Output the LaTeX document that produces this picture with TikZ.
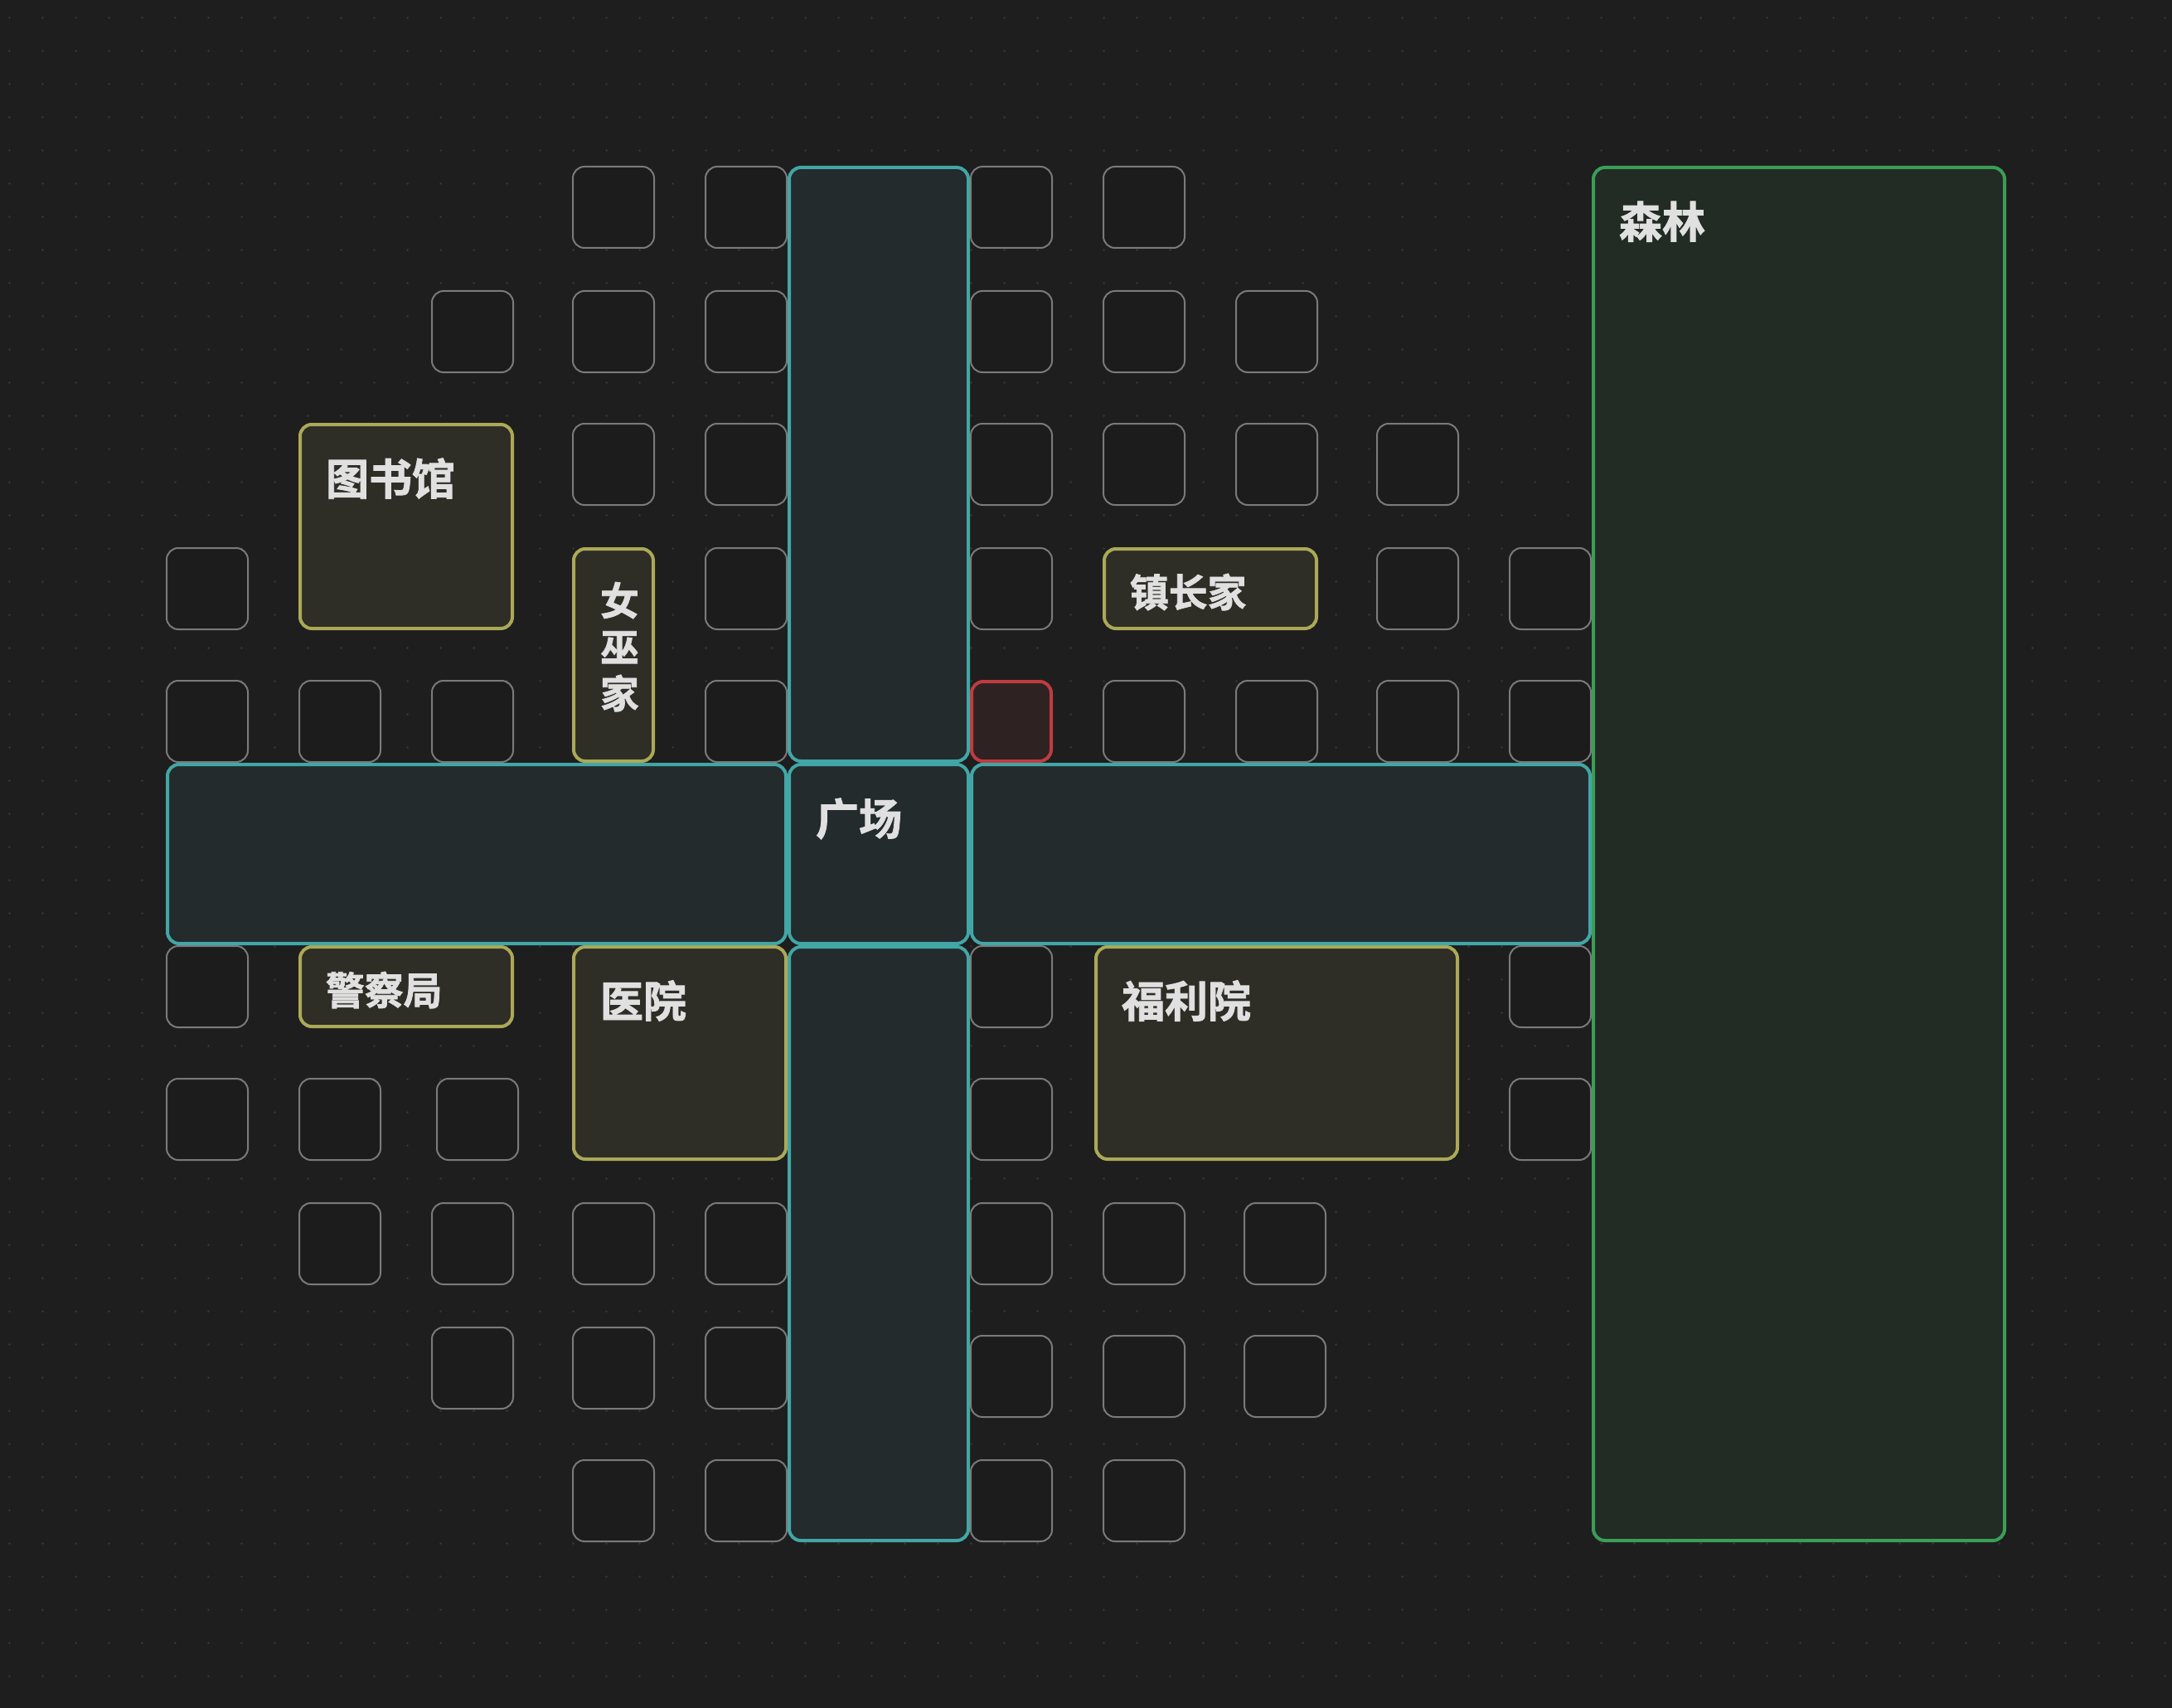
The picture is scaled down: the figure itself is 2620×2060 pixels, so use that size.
\documentclass[tikz,border=0pt]{standalone}
\usepackage{fontspec}
\setmainfont{Noto Sans CJK SC}[BoldFont={Noto Sans CJK SC Bold},BoldFeatures={FakeBold=1.6}]
\definecolor{bgc}{HTML}{1E1E1E}
\definecolor{dotc}{HTML}{353535}
\definecolor{lotc}{HTML}{7A7A7A}
\definecolor{lotf}{HTML}{1C1C1C}
\definecolor{bldc}{HTML}{ABA957}
\definecolor{bldf}{HTML}{2E2D26}
\definecolor{roadc}{HTML}{42A6A6}
\definecolor{roadf}{HTML}{232B2D}
\definecolor{forc}{HTML}{3A9E58}
\definecolor{forf}{HTML}{222B24}
\definecolor{redc}{HTML}{BE3C40}
\definecolor{redf}{HTML}{2E2222}
\definecolor{txtc}{HTML}{E0E0E0}
\tikzset{
  plotbase/.style={inner sep=0pt,outer sep=0pt,rounded corners=7pt},
  lot/.style={plotbase,draw=lotc,fill=lotf,line width=1pt},
  bld/.style={plotbase,draw=bldc,fill=bldf,line width=2pt},
  road/.style={plotbase,draw=roadc,fill=roadf,line width=2pt},
  forest/.style={plotbase,draw=forc,fill=forf,line width=2pt},
  redlot/.style={plotbase,draw=redc,fill=redf,line width=2pt},
  lbl/.style={inner sep=0pt,outer sep=0pt,text=txtc,font=\bfseries,anchor=base west},
  big/.style={lbl,font=\fontsize{26pt}{30pt}\selectfont\bfseries},
  small/.style={lbl,font=\fontsize{23.4pt}{28pt}\selectfont\bfseries},
}
% name, style, x, y, w, h, stroke width in px
\newcommand{\plot}[7]{\node[#2,minimum width={(#5-#7)*0.5pt},minimum height={(#6-#7)*0.5pt}] (#1) at ({#3+#5/2},{#4+#6/2}) {};}
\begin{document}
\begin{tikzpicture}[x=0.5pt,y=-0.5pt]
\useasboundingbox (0,0) rectangle (2620,2060);
\fill[bgc] (0,0) rectangle (2620,2060);
\fill[dotc] \foreach \i in {0,...,65}{\foreach \j in {0,...,50}{({11.5+40*\i},{21.5+40*\j}) circle[radius=1.5]}};
% plain lots: x/y
\foreach \px/\py in {
 690/200,850/200,1170/200,1330/200,
 520/350,690/350,850/350,1170/350,1330/350,1490/350,
 690/510,850/510,1170/510,1330/510,1490/510,1660/510,
 200/660,850/660,1170/660,1660/660,1820/660,
 200/820,360/820,520/820,850/820,1330/820,1490/820,1660/820,1820/820,
 200/1140,1170/1140,1820/1140,
 200/1300,360/1300,526/1300,1170/1300,1820/1300,
 360/1450,520/1450,690/1450,850/1450,1170/1450,1330/1450,1500/1450,
 520/1600,690/1600,850/1600,1170/1610,1330/1610,1500/1610,
 690/1760,850/1760,1170/1760,1330/1760}{
 \plot{lot-\px-\py}{lot}{\px}{\py}{100}{100}{2}
}
\plot{redplot}{redlot}{1170}{820}{100}{100}{4}
\plot{library}{bld}{360}{510}{260}{250}{4}
\plot{witch}{bld}{690}{660}{100}{260}{4}
\plot{mayor}{bld}{1330}{660}{260}{100}{4}
\plot{police}{bld}{360}{1140}{260}{100}{4}
\plot{hospital}{bld}{690}{1140}{260}{260}{4}
\plot{welfare}{bld}{1320}{1140}{440}{260}{4}
\plot{roadN}{road}{950}{200}{220}{720}{4}
\plot{roadW}{road}{200}{920}{750}{220}{4}
\plot{plaza}{road}{950}{920}{220}{220}{4}
\plot{roadE}{road}{1170}{920}{750}{220}{4}
\plot{roadS}{road}{950}{1140}{220}{720}{4}
\plot{woods}{forest}{1920}{200}{500}{1660}{4}
% labels
\node[big] (tlibrary) at (393,597) {图书馆};
\node[big] (tplaza) at (984,1007) {广场};
\node[big] (twoods) at (1953,287) {森林};
\node[big] (thospital) at (724,1227) {医院};
\node[big] (twelfare) at (1353,1227) {福利院};
\node[small] (tpolice) at (393,1212) {警察局};
\node[small] (tmayor) at (1363,732) {镇长家};
\node[small] (twitch1) at (724,742) {女};
\node[small] (twitch2) at (724,798) {巫};
\node[small] (twitch3) at (724,854) {家};
\end{tikzpicture}
\end{document}
